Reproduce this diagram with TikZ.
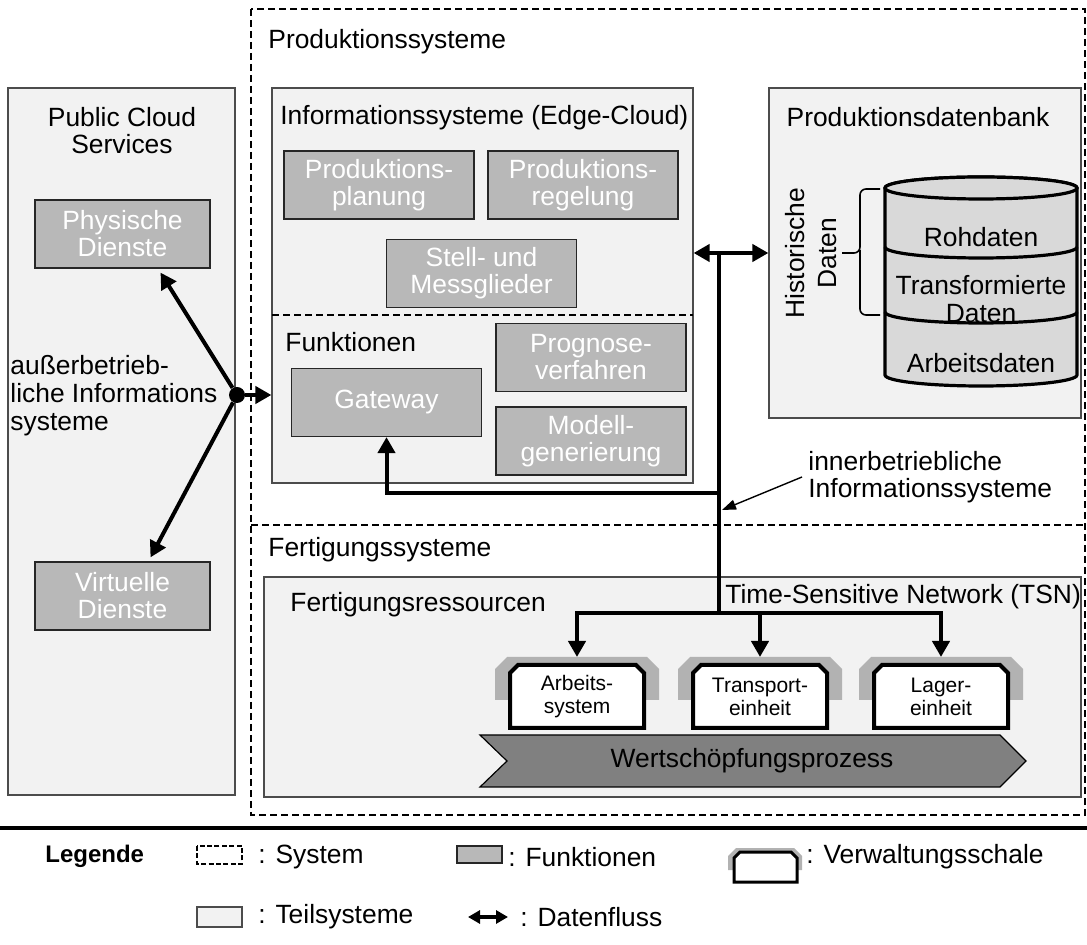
\documentclass[tikz,border=0pt]{standalone}
\usepackage{fontspec}
\setmainfont{Liberation Sans}
\usetikzlibrary{arrows.meta,calc,positioning}

\tikzset{
  teilsystem/.style={draw=black!70, line width=0.6pt, fill=black!5, inner sep=0pt},
  funktion/.style={draw=black!85, line width=0.6pt, fill=black!28, text=white,
    align=center, inner sep=0pt, minimum width=95pt, minimum height=34pt},
  system/.style={line width=1pt, dash pattern=on 3.5pt off 2pt},
  fluss/.style={line width=2pt},
  spitze/.style={-{Triangle[length=8pt,width=8.5pt]}},
  beide/.style={{Triangle[length=8pt,width=8.5pt]}-{Triangle[length=8pt,width=8.5pt]}},
  titel/.style={anchor=west, inner sep=0pt},
  vwsgrau/.style={fill=black!30},
  vwsrand/.style={draw=black, fill=white, line width=2pt},
  vwstext/.style={font=\fontsize{10.5}{11.5}\selectfont, align=center, inner sep=0pt},
  db/.style={draw=black, fill=black!15, line width=1.6pt},
}

% Verwaltungsschale: name, x-Mitte, Text
\newcommand{\vwsbox}[3]{%
  \fill[vwsgrau] (#2-82,700) -- (#2-82,669) -- (#2-70,657) -- (#2+70,657) -- (#2+82,669) -- (#2+82,700) -- cycle;
  \filldraw[vwsrand] (#2-67,728) -- (#2-67,673) -- (#2-59,665) -- (#2+59,665) -- (#2+67,673) -- (#2+67,728) -- cycle;
  \node[vwstext] (#1) at (#2,697) {#3};
  \coordinate (#1top) at (#2,657);
}

\begin{document}
\begin{tikzpicture}[x=0.5pt, y=-0.5pt, font=\fontsize{13.2}{13.5}\selectfont]
\useasboundingbox (0,0) rectangle (1087,945);

% Teilsysteme
\node[teilsystem, minimum width=113.5pt, minimum height=353.5pt] (cloud) at (121.5,441.5) {};
\node[teilsystem, minimum width=210.5pt, minimum height=197.5pt] (edge) at (482.5,285.5) {};
\node[teilsystem, minimum width=156pt, minimum height=165pt] (pdb) at (925,253) {};
\node[teilsystem, minimum width=408.5pt, minimum height=110pt] (fres) at (672.5,687) {};

% Systeme
\draw[system] (251,9) rectangle (1085,815);
\draw[system] (251,525) -- (1085,525);
\draw[system] (272,315) -- (693,315);

\node[titel] (prodsys) at (268,42) {Produktionssysteme};
\node[titel] (fertsys) at (268,550) {Fertigungssysteme};

% Public Cloud
\node[align=center, inner sep=0pt] (cloudtitel) at (122,131) {Public Cloud\\Services};
\node[funktion, minimum width=87.5pt] (physisch) at (122.5,234) {Physische\\Dienste};
\node[funktion, minimum width=87.5pt] (virtuell) at (122.5,596) {Virtuelle\\Dienste};
\node[titel, align=left, font=\fontsize{13.2}{14}\selectfont] (extern) at (10,396) {au\ss erbetrieb-\\liche Informations\\systeme};

% Edge-Cloud
\node[titel] (edgetitel) at (280,118) {Informationssysteme (Edge-Cloud)};
\node[funktion] (planung) at (379,185) {Produktions-\\planung};
\node[funktion] (regelung) at (583,185) {Produktions-\\regelung};
\node[funktion] (stell) at (481.5,273.5) {Stell- und\\Messglieder};
\node[titel] (funktitel) at (285,342) {Funktionen};
\node[funktion] (gateway) at (386.5,402.5) {Gateway};
\node[funktion] (prognose) at (591,357.5) {Prognose-\\verfahren};
\node[funktion] (modell) at (591,441) {Modell-\\generierung};

% Produktionsdatenbank
\node[inner sep=0pt] (pdbtitel) at (918,117) {Produktionsdatenbank};
\filldraw[db] (885,188) -- (885,375) arc[start angle=180, end angle=0, x radius=96, y radius=11]
  -- (1077,188) arc[start angle=0, end angle=-180, x radius=96, y radius=11] -- cycle;
\filldraw[db] (981,188) ellipse[x radius=96, y radius=11];
\draw[db, fill=none] (885,247) arc[start angle=180, end angle=0, x radius=96, y radius=11];
\draw[db, fill=none] (885,312) arc[start angle=180, end angle=0, x radius=96, y radius=11];
\node[inner sep=0pt] (roh) at (981,237) {Rohdaten};
\node[inner sep=0pt, align=center, font=\fontsize{13.2}{14}\selectfont] (trans) at (981,299) {Transformierte\\Daten};
\node[inner sep=0pt] (arbeitsdaten) at (981,363) {Arbeitsdaten};
\draw[line width=0.8pt, rounded corners=3pt] (880,189) -- (860,189) -- (860,253) -- (842,253);
\draw[line width=0.8pt, rounded corners=3pt] (860,250) -- (860,315) -- (880,315);
\node[rotate=90, inner sep=0pt] (historisch) at (795,253) {Historische};
\node[rotate=90, inner sep=0pt] (hdaten) at (828,253) {Daten};

% Fertigungsressourcen
\node[titel] (frestitel) at (290,605) {Fertigungsressourcen};
\node[titel] (tsntitel) at (725,597) {Time-Sensitive Network (TSN)};
\vwsbox{arbeit}{577}{Arbeits-\\system}
\vwsbox{transport}{760}{Transport-\\einheit}
\vwsbox{lager}{941}{Lager-\\einheit}
\filldraw[draw=black, line width=0.6pt, fill=black!50] (480,735) -- (1000,735) -- (1026,761)
  -- (1000,787) -- (480,787) -- (507,761) -- cycle;
\node[inner sep=0pt] (wert) at (752,761) {Wertsch\"opfungsprozess};

% Datenfluesse
\node[circle, fill=black, inner sep=0pt, minimum size=8pt] (hub) at (237,395) {};
\draw[fluss,spitze] (hub) -- ($(physisch.south)+(38,4)$);
\draw[fluss,spitze] (hub) -- ($(virtuell.north)+(28,-4)$);
\draw[fluss,spitze] (hub) -- (hub -| edge.west);

\coordinate (knot) at (719,253);
\coordinate (gwknick) at (719,493);
\coordinate (tsn) at (719,613);
\draw[fluss,beide] (knot -| edge.east) -- (knot -| pdb.west);
\draw[fluss] (knot) -- (tsn);
\draw[fluss,spitze] (gwknick) -| (gateway.south);
\draw[fluss,spitze] (tsn) -| (arbeittop);
\draw[fluss,spitze] (tsn) -| (transporttop);
\draw[fluss,spitze] (tsn) -| (lagertop);

\node[titel, align=left, font=\fontsize{13.2}{13.5}\selectfont] (inner) at (808,477) {innerbetriebliche\\Informationssysteme};
\coordinate (hinweis) at (722,510);
\draw[line width=0.7pt, -{Triangle[length=7pt,width=5pt]}] ([xshift=-3pt]inner.west) -- (hinweis);

% Legende
\draw[line width=2pt] (0,828) -- (1087,828);
\node[titel, font=\fontsize{12}{14}\selectfont\bfseries] (legende) at (45,856) {Legende};
\draw[line width=0.6pt, dash pattern=on 2.5pt off 1.2pt] (197,846) rectangle (242,864);
\node[titel] (lsystem) at (258,857) {: System};
\node[funktion, minimum width=22.5pt, minimum height=8.5pt] (lfunktion) at (479.5,854.5) {};
\node[titel] (lfunktiontext) at (508,857) {: Funktionen};
\fill[vwsgrau] (728,870) -- (728,856) -- (736,848) -- (794,848) -- (802,856) -- (802,870) -- cycle;
\filldraw[vwsrand, line width=1.5pt] (734,882) -- (734,858) -- (740,852) -- (791,852) -- (797,858) -- (797,882) -- cycle;
\node[titel] (lvws) at (806,857) {: Verwaltungsschale};
\node[teilsystem, minimum width=22.5pt, minimum height=10pt] (lteil) at (219.5,917) {};
\node[titel] (lteiltext) at (258,917) {: Teilsysteme};
\coordinate (lpfeila) at (468,917);
\coordinate (lpfeilb) at (508,917);
\draw[line width=1.6pt, {Triangle[length=6pt,width=6.5pt]}-{Triangle[length=6pt,width=6.5pt]}] (lpfeila) -- (lpfeilb);
\node[titel] (lfluss) at (520,917) {: Datenfluss};
\end{tikzpicture}
\end{document}
